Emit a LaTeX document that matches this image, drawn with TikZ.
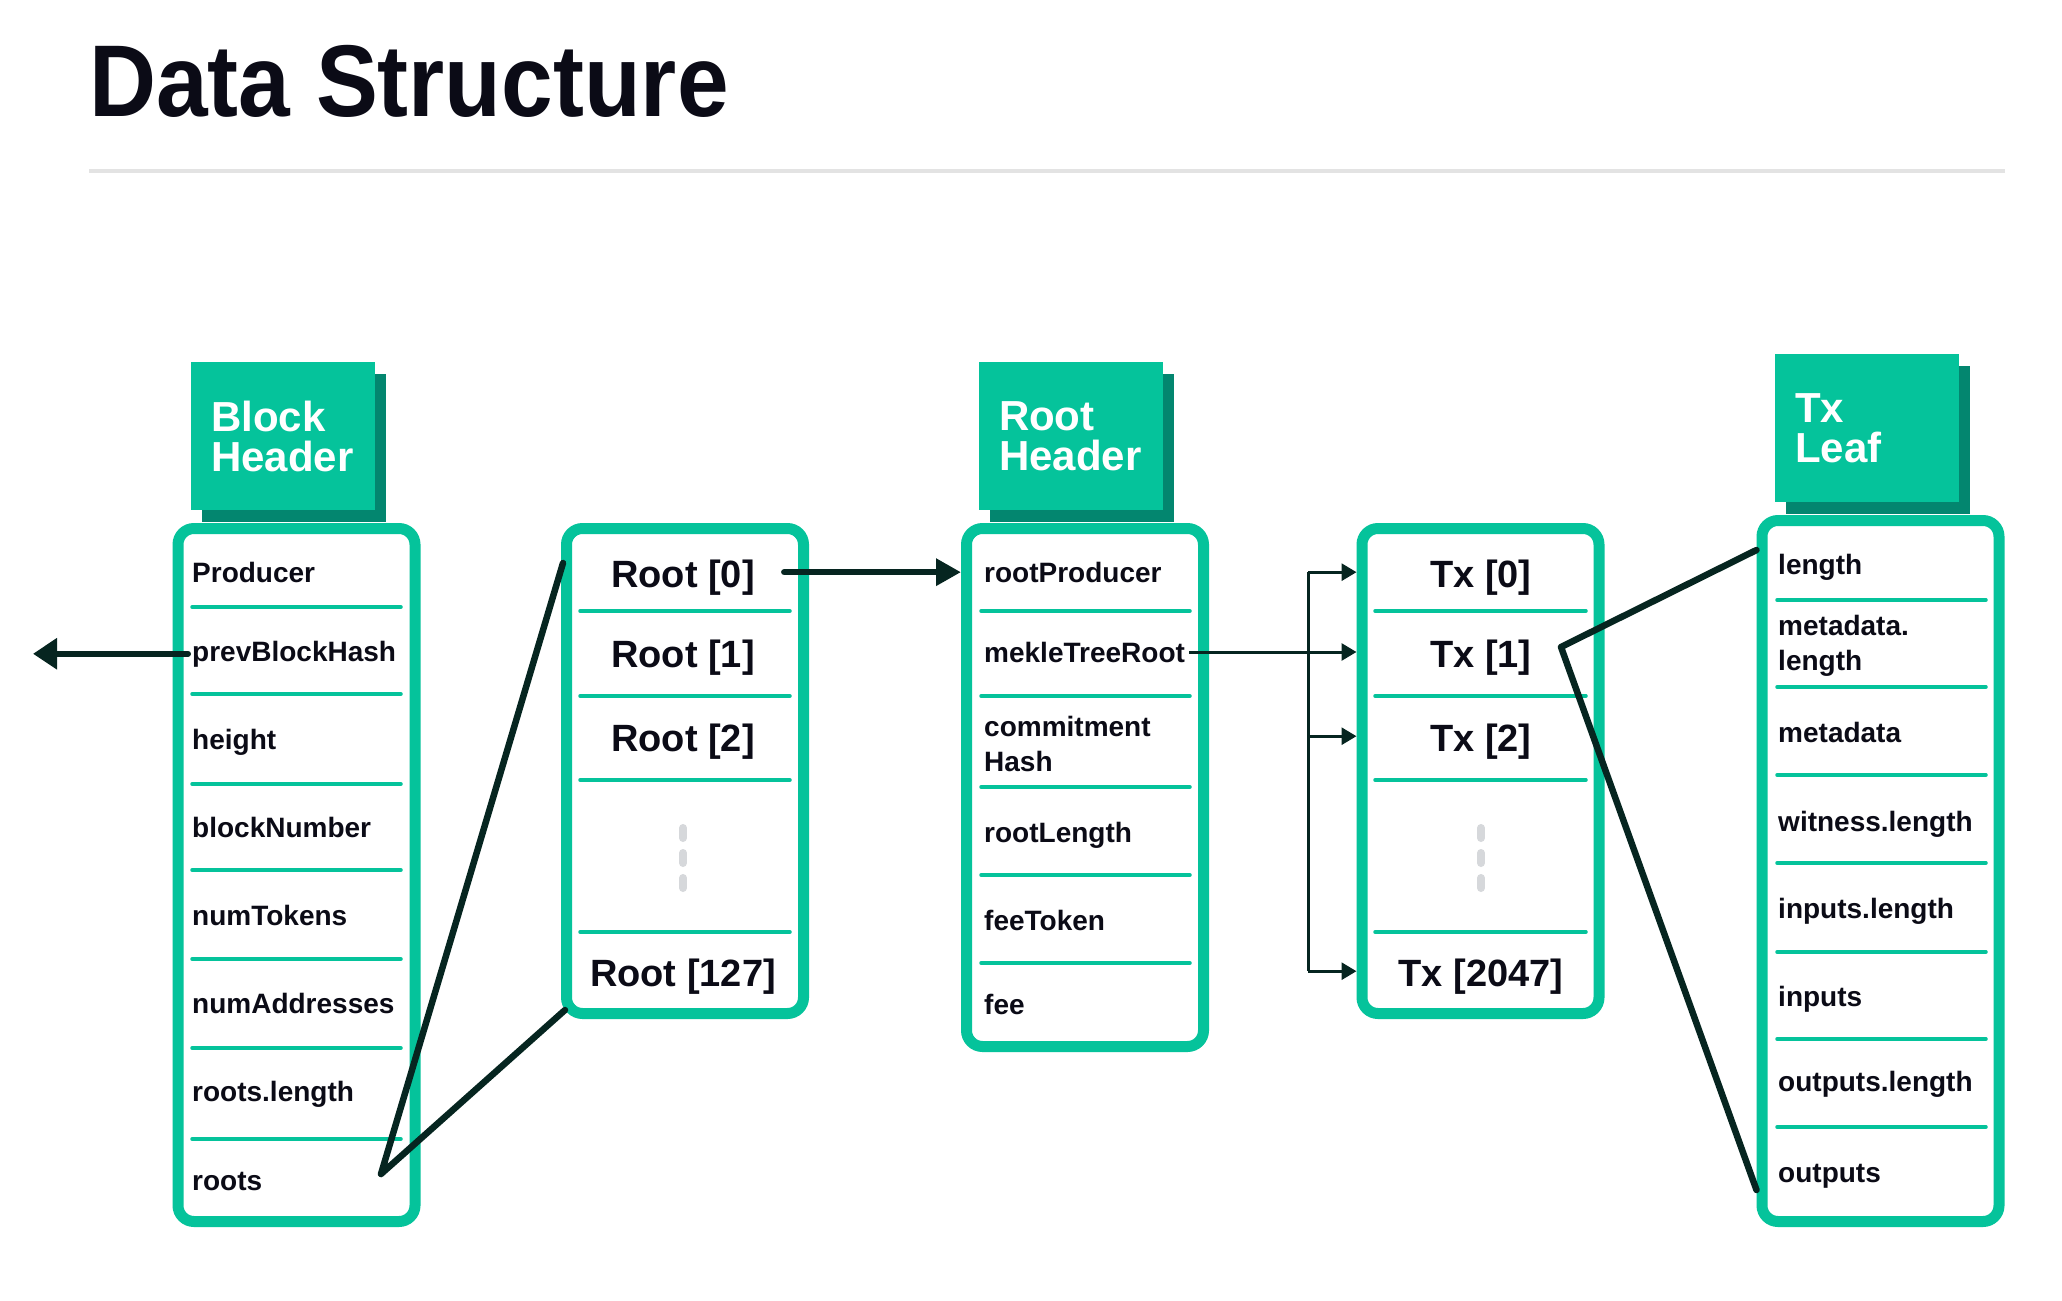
\documentclass[tikz,border=0pt]{standalone}
\usepackage{fontspec}
\setmainfont{Liberation Sans}
\newfontfamily\titlefont[FakeStretch=0.91]{Liberation Sans}
\usetikzlibrary{arrows.meta,shadows}

\definecolor{mint}{HTML}{05C39B}
\definecolor{mintdark}{HTML}{03866F}
\definecolor{ink}{HTML}{062520}
\definecolor{txt}{HTML}{0B0B16}
\definecolor{rulegray}{HTML}{E3E3E3}
\definecolor{dotgray}{HTML}{D6D8DB}

\tikzset{
	cell/.style={draw=mint, line width=11pt, fill=white, rounded corners=16pt, minimum width=237pt, inner sep=0pt},
	tab/.style={fill=mint, text=white, font=\fontsize{42}{40}\selectfont\bfseries, minimum width=184pt, minimum height=148pt,
		inner xsep=20pt, inner ysep=0pt, text width=144pt, align=left,
		drop shadow={shadow xshift=11pt, shadow yshift=-12pt, fill=mintdark, opacity=1}},
	field/.style={anchor=base west, inner xsep=4pt, text=txt, font=\fontsize{28}{35}\selectfont\bfseries, align=left},
	item/.style={anchor=base, text=txt, font=\fontsize{38}{40}\selectfont\bfseries},
	sepline/.style={draw=mint, line width=3.5pt, line cap=round},
	link/.style={draw=ink, line width=6.5pt, line cap=round, line join=round},
	thinlink/.style={draw=ink, line width=3pt, -{Triangle[length=15pt,width=17pt]}},
	gapdots/.style={draw=dotgray, line width=8pt, line cap=round, dash pattern=on 10pt off 15pt},
}

\begin{document}
\begin{tikzpicture}[x=1pt, y=-1pt]
	\fill[white] (0,0) rectangle (2062,1301);
	\useasboundingbox (0,0) rectangle (2062,1301);
	
	% title
	\node[anchor=base west, inner sep=0pt, text=txt, font=\titlefont\fontsize{102}{102}\selectfont\bfseries] (title) at (89,116) {Data Structure};
	\draw[rulegray, line width=4pt] (89,171) -- (2005,171);
	
	% tabs
	\node[tab] (bhtab) at (283,436) {Block\\Header};
	\node[tab] (rhtab) at (1071,436) {Root\\Header};
	\node[tab] (tltab) at (1867,428) {Tx\\Leaf};
	
	% boxes
	\node[cell, minimum height=693pt] (bhbox) at (296.5,875) {};
	\node[cell, minimum height=485pt] (rootarr) at (685,771) {};
	\node[cell, minimum height=518pt] (rhbox) at (1085,787.5) {};
	\node[cell, minimum height=485pt] (txarr) at (1480.5,771) {};
	\node[cell, minimum height=701pt] (tlbox) at (1880.5,871) {};
	
	% separators
	\foreach \y in {607,694,784,870,959,1048,1139} \draw[sepline] (192,\y) -- (401,\y);
	\foreach \y in {611,696,780,932} \draw[sepline] (580,\y) -- (790,\y);
	\foreach \y in {611,696,787,875,963} \draw[sepline] (981,\y) -- (1190,\y);
	\foreach \y in {611,696,780,932} \draw[sepline] (1375,\y) -- (1586,\y);
	\foreach \y in {600,687,775,863,952,1039,1127} \draw[sepline] (1777,\y) -- (1986,\y);
	
	% fields (two-line ones sit on their last line)
	\foreach \t/\y [count=\i] in {Producer/582, prevBlockHash/661, height/749, blockNumber/837,
		numTokens/925, numAddresses/1013, roots.length/1101, roots/1190}
		\node[field] (bh\i) at (188,\y) {\t};
	\foreach \t/\y [count=\i] in {rootProducer/582, mekleTreeRoot/662, {commitment\\Hash}/771,
		rootLength/842, feeToken/930, fee/1014}
		\node[field] (rh\i) at (980,\y) {\t};
	\foreach \t/\y [count=\i] in {length/574, {metadata.\\length}/670, metadata/742, witness.length/831,
		inputs.length/918, inputs/1006, outputs.length/1091, outputs/1182}
		\node[field] (tl\i) at (1774,\y) {\t};
	
	% array items
	\foreach \t/\y [count=\i from 0] in {Root [0]/587, Root [1]/667, Root [2]/751, Root [127]/986}
		\node[item] (rt\i) at (683,\y) {\t};
	\foreach \t/\y [count=\i from 0] in {Tx [0]/587, Tx [1]/667, Tx [2]/751, Tx [2047]/986}
		\node[item] (tx\i) at (1481,\y) {\t};
	\draw[gapdots] (683,828) -- (683,888);
	\draw[gapdots] (1481,828) -- (1481,888);
	
	% arrows
	\coordinate (prevblk) at (33,651);
	\draw[link, line width=6pt, -{Triangle[length=24pt,width=30pt]}] (bh2.west) -- (bh2.west -| prevblk);
	\coordinate (r0out) at ([shift={(26,-5)}]rt0.east);
	\draw[link, line width=6.5pt, -{Triangle[length=25pt,width=26pt]}] (r0out) -- (rhbox.west |- r0out);
	
	% pointers
	\coordinate (rootsptr) at (381,1174);
	\draw[link] ([shift={(2,40)}]rootarr.north west) -- (rootsptr) -- ([shift={(4,-9)}]rootarr.south west);
	\coordinate (txptr) at (1561,647);
	\draw[link] ([shift={(0,35)}]tlbox.north west) -- (txptr) -- ([shift={(0,-37)}]tlbox.south west);
	
	% merkle root to txs
	\coordinate (bus) at (1308,652);
	\draw[thinlink] (rh2.east) -- (txarr.west |- rh2.east);
	\draw[ink, line width=3pt] ([yshift=5pt]bus |- tx0.east) -- ([yshift=5pt]bus |- tx3.east);
	\foreach \n in {0,2,3} \draw[thinlink] ([yshift=5pt]bus |- tx\n.east) -- ([yshift=5pt]txarr.west |- tx\n.east);
	
\end{tikzpicture}
\end{document}
